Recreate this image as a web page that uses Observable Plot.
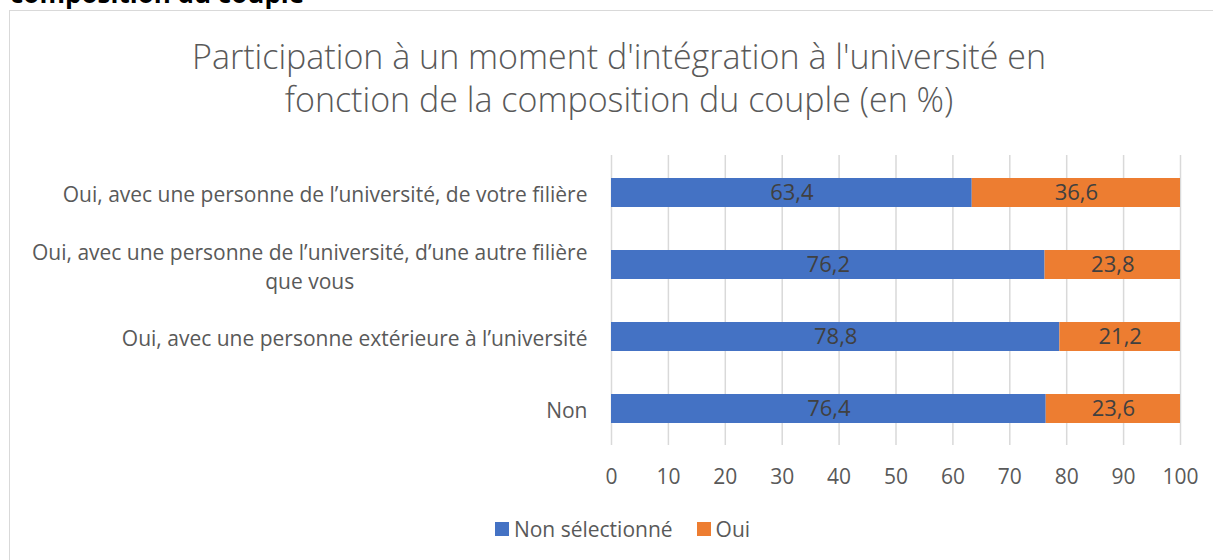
<!DOCTYPE html>
<html>
<head>
<meta charset="utf-8">
<script src="https://cdn.jsdelivr.net/npm/d3@7"></script>
<script src="https://cdn.jsdelivr.net/npm/@observablehq/plot@0.6"></script>
<style>
  html, body { margin: 0; padding: 0; background: #fff; overflow: hidden; }
  #wrap { position: relative; width: 1213px; height: 560px; overflow: hidden; font-family: "Open Sans", Lato, sans-serif; }
  #frame { position: absolute; left: 9px; top: 10px; width: 1400px; height: 700px; border: 1px solid #d9d9d9; box-sizing: border-box; }
  #cut { position: absolute; left: 10px; top: -25px; font-size: 26px; font-weight: bold; color: #000; white-space: nowrap; }
  #title { position: absolute; left: 0; width: 1238px; top: 35px; text-align: center; font-size: 34px; font-weight: 300; color: #595959; line-height: 43px; }
  #chart { position: absolute; left: 0; top: 140px; }
  #legend { position: absolute; left: 0; width: 1245px; top: 514px; text-align: center; font-size: 21px; color: #595959; }
  #legend span.item { display: inline-flex; align-items: center; margin: 0 12px; }
  #legend span.sw { display: inline-block; width: 14px; height: 14px; margin-right: 5px; }
</style>
</head>
<body>
<div id="wrap">
  <div id="cut">composition du couple</div>
  <div id="frame"></div>
  <div id="title">Participation à un moment d'intégration à l'université en<br>fonction de la composition du couple (en %)</div>
  <div id="chart"></div>
  <div id="legend"></div>
</div>
<script>
const categories = [
  "Oui, avec une personne de l’université, de votre filière",
  "Oui, avec une personne de l’université, d’une autre filière\nque vous",
  "Oui, avec une personne extérieure à l’université",
  "Non"
];
const seriesNames = ["Non sélectionné", "Oui"];
const nonSelectionne = [63.4, 76.2, 78.8, 76.4];
const oui = [36.6, 23.8, 21.2, 23.6];
const xTicks = [0, 10, 20, 30, 40, 50, 60, 70, 80, 90, 100];
const colors = ["#4472C4", "#ED7D31"];

const data = [];
categories.forEach((c, i) => {
  data.push({cat: c, serie: seriesNames[0], value: nonSelectionne[i]});
  data.push({cat: c, serie: seriesNames[1], value: oui[i]});
});

const fmt = v => v.toFixed(1).replace(".", ",");

const chart = Plot.plot({
  width: 1213,
  height: 360,
  marginTop: 15,
  marginBottom: 55,
  marginLeft: 611,
  marginRight: 33,
  style: {fontFamily: "'Open Sans', Lato, sans-serif", fontSize: "21px", color: "#595959", background: "transparent"},
  x: {domain: [0, 100], ticks: xTicks, label: null},
  y: {domain: categories, paddingInner: 0.6, paddingOuter: 0.3, label: null},
  color: {domain: seriesNames, range: colors},
  marks: [
    Plot.gridX(xTicks, {stroke: "#d9d9d9", strokeOpacity: 1, strokeWidth: 1.5}),
    Plot.barX(data, Plot.stackX({x: "value", y: "cat", fill: "serie", order: seriesNames})),
    Plot.text(data, Plot.stackX({x: "value", y: "cat", z: "serie", order: seriesNames, text: d => fmt(d.value), fill: "#404040", fontSize: 22})),
    Plot.axisX(xTicks, {tickSize: 0, tickPadding: 24, fill: "#595959", fontSize: 21, tickFormat: d => String(d)}),
    Plot.axisY({tickSize: 0, tickPadding: 24, fill: "#595959", fontSize: 21, lineHeight: 1.4})
  ]
});
document.getElementById("chart").appendChild(chart);

// center the wrapped second line of a multi-line y label under its first line
chart.querySelectorAll("text").forEach(t => {
  const ts = t.querySelectorAll("tspan");
  if (ts.length === 2) {
    const w1 = ts[0].getComputedTextLength();
    const x0 = +(ts[0].getAttribute("x") || 0);
    ts[1].setAttribute("x", x0 - w1 / 2);
    ts[1].setAttribute("text-anchor", "middle");
  }
});

const lg = document.getElementById("legend");
seriesNames.forEach((s, i) => {
  const item = document.createElement("span");
  item.className = "item";
  const sw = document.createElement("span");
  sw.className = "sw";
  sw.style.background = colors[i];
  item.appendChild(sw);
  item.appendChild(document.createTextNode(s));
  lg.appendChild(item);
});
</script>
</body>
</html>
